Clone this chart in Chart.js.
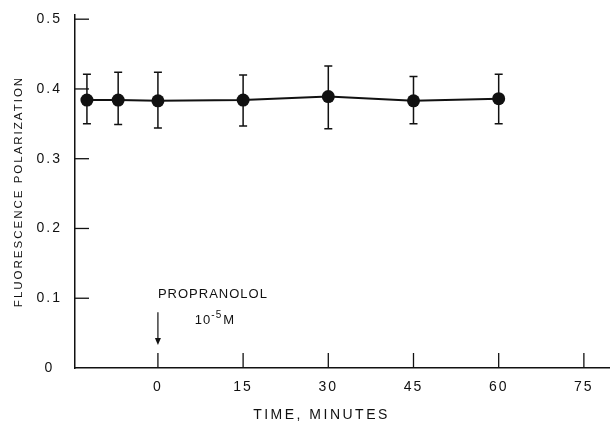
<!DOCTYPE html>
<html>
<head>
<meta charset="utf-8">
<script src="https://cdn.jsdelivr.net/npm/chart.js@4.4.0/dist/chart.umd.min.js"></script>
<style>
  html, body { margin: 0; padding: 0; background: #fff; }
  #wrap { width: 610px; height: 423px; }
</style>
</head>
<body>
<div id="wrap"><canvas id="polChart"></canvas></div>
<script>
// time (min) vs fluorescence polarization, mean with error bar ends
const times = [-12.5, -7, 0, 15, 30, 45, 60];
const means = [0.384, 0.384, 0.383, 0.384, 0.389, 0.383, 0.386];
const upper = [0.421, 0.424, 0.424, 0.420, 0.433, 0.418, 0.421];
const lower = [0.350, 0.349, 0.344, 0.347, 0.343, 0.350, 0.350];

const xTickValues = [0, 15, 30, 45, 60, 75];
const yTickValues = [0, 0.1, 0.2, 0.3, 0.4, 0.5];
const yTickLabels = ['0', '0.1', '0.2', '0.3', '0.4', '0.5'];

const ink = '#111';
const fontFamily = '"Liberation Sans", Arial, sans-serif';

// Chart.js resets the canvas state on resize, so put the spacing back before measuring/drawing
const spacingPlugin = {
  id: 'spacing',
  beforeLayout(chart) { chart.ctx.letterSpacing = '2px'; },
  beforeDraw(chart) { chart.ctx.letterSpacing = '2px'; }
};

// inward tick marks, error bars, x title and the drug annotation
const extrasPlugin = {
  id: 'extras',
  afterDatasetsDraw(chart) {
    const { ctx, scales: { x, y }, chartArea } = chart;
    ctx.save();
    ctx.strokeStyle = ink;
    ctx.fillStyle = ink;

    // tick marks pointing into the plot
    ctx.lineWidth = 1.3;
    yTickValues.forEach(v => {
      if (v === 0) return;
      const py = y.getPixelForValue(v);
      ctx.beginPath();
      ctx.moveTo(chartArea.left, py);
      ctx.lineTo(chartArea.left + 14, py);
      ctx.stroke();
    });
    xTickValues.forEach(v => {
      const px = x.getPixelForValue(v);
      ctx.beginPath();
      ctx.moveTo(px, chartArea.bottom);
      ctx.lineTo(px, chartArea.bottom - 15);
      ctx.stroke();
    });

    // error bars
    ctx.lineWidth = 1.5;
    times.forEach((t, i) => {
      const px = x.getPixelForValue(t);
      const top = y.getPixelForValue(upper[i]);
      const bot = y.getPixelForValue(lower[i]);
      ctx.beginPath();
      ctx.moveTo(px, top); ctx.lineTo(px, bot);
      ctx.moveTo(px - 4, top); ctx.lineTo(px + 4, top);
      ctx.moveTo(px - 4, bot); ctx.lineTo(px + 4, bot);
      ctx.stroke();
    });

    // x axis title (sits left of the plot centre in the original)
    ctx.letterSpacing = '2.5px';
    ctx.textBaseline = 'middle';
    ctx.textAlign = 'center';
    ctx.font = '14px ' + fontFamily;
    ctx.fillText('TIME, MINUTES', x.getPixelForValue(28.8), 415);

    // annotation
    ctx.letterSpacing = '1px';
    ctx.textAlign = 'left';
    ctx.font = '13px ' + fontFamily;
    const x0 = x.getPixelForValue(0);
    ctx.fillText('PROPRANOLOL', x0, y.getPixelForValue(0.105));

    const concY = y.getPixelForValue(0.068);
    let cx = x.getPixelForValue(6.5);
    ctx.fillText('10', cx, concY);
    cx += ctx.measureText('10').width;
    ctx.font = '10px ' + fontFamily;
    ctx.fillText('-5', cx, concY - 5);
    cx += ctx.measureText('-5').width + 1;
    ctx.font = '13px ' + fontFamily;
    ctx.fillText('M', cx, concY);

    // arrow down to the time of addition
    const aTop = y.getPixelForValue(0.080);
    const aBot = y.getPixelForValue(0.033);
    ctx.lineWidth = 1.2;
    ctx.beginPath();
    ctx.moveTo(x0, aTop);
    ctx.lineTo(x0, aBot - 6);
    ctx.stroke();
    ctx.beginPath();
    ctx.moveTo(x0 - 3, aBot - 7);
    ctx.lineTo(x0 + 3, aBot - 7);
    ctx.lineTo(x0, aBot);
    ctx.closePath();
    ctx.fill();

    ctx.restore();
  }
};

new Chart(document.getElementById('polChart'), {
  type: 'scatter',
  data: {
    datasets: [{
      data: times.map((t, i) => ({ x: t, y: means[i] })),
      showLine: true,
      borderColor: ink,
      borderWidth: 2,
      pointRadius: 6.5,
      pointBackgroundColor: ink,
      pointBorderColor: ink,
      pointBorderWidth: 0
    }]
  },
  options: {
    responsive: true,
    maintainAspectRatio: false,
    animation: false,
    layout: { autoPadding: false, padding: { top: 15, right: 0, left: 0, bottom: 0 } },
    plugins: {
      legend: { display: false },
      tooltip: { enabled: false }
    },
    scales: {
      x: {
        type: 'linear',
        min: -14.6,
        max: 79.6,
        afterBuildTicks(scale) {
          scale.ticks = xTickValues.map(v => ({ value: v }));
        },
        afterFit(scale) {
          scale.height = 55;
          scale.paddingLeft = 0;
          scale.paddingRight = 0;
        },
        grid: { display: false, drawTicks: false },
        border: { display: true, color: ink, width: 1.5 },
        ticks: {
          color: ink,
          padding: 11,
          maxRotation: 0,
          font: { family: fontFamily, size: 14 }
        }
      },
      y: {
        type: 'linear',
        min: 0,
        max: 0.506,
        afterBuildTicks(scale) {
          scale.ticks = yTickValues.map(v => ({ value: v }));
        },
        afterFit(scale) {
          scale.width = 75;
          scale.paddingTop = 0;
          scale.paddingBottom = 0;
        },
        grid: { display: false, drawTicks: false },
        border: { display: true, color: ink, width: 1.5 },
        ticks: {
          color: ink,
          padding: 13,
          crossAlign: 'center',
          font: { family: fontFamily, size: 14 },
          callback(value) {
            const i = yTickValues.findIndex(v => Math.abs(v - value) < 1e-9);
            return i >= 0 ? yTickLabels[i] : '';
          }
        },
        title: {
          display: true,
          text: 'FLUORESCENCE POLARIZATION',
          color: ink,
          padding: { top: 12, bottom: 0 },
          font: { family: fontFamily, size: 11.5 }
        }
      }
    }
  },
  plugins: [spacingPlugin, extrasPlugin]
});
</script>
</body>
</html>
